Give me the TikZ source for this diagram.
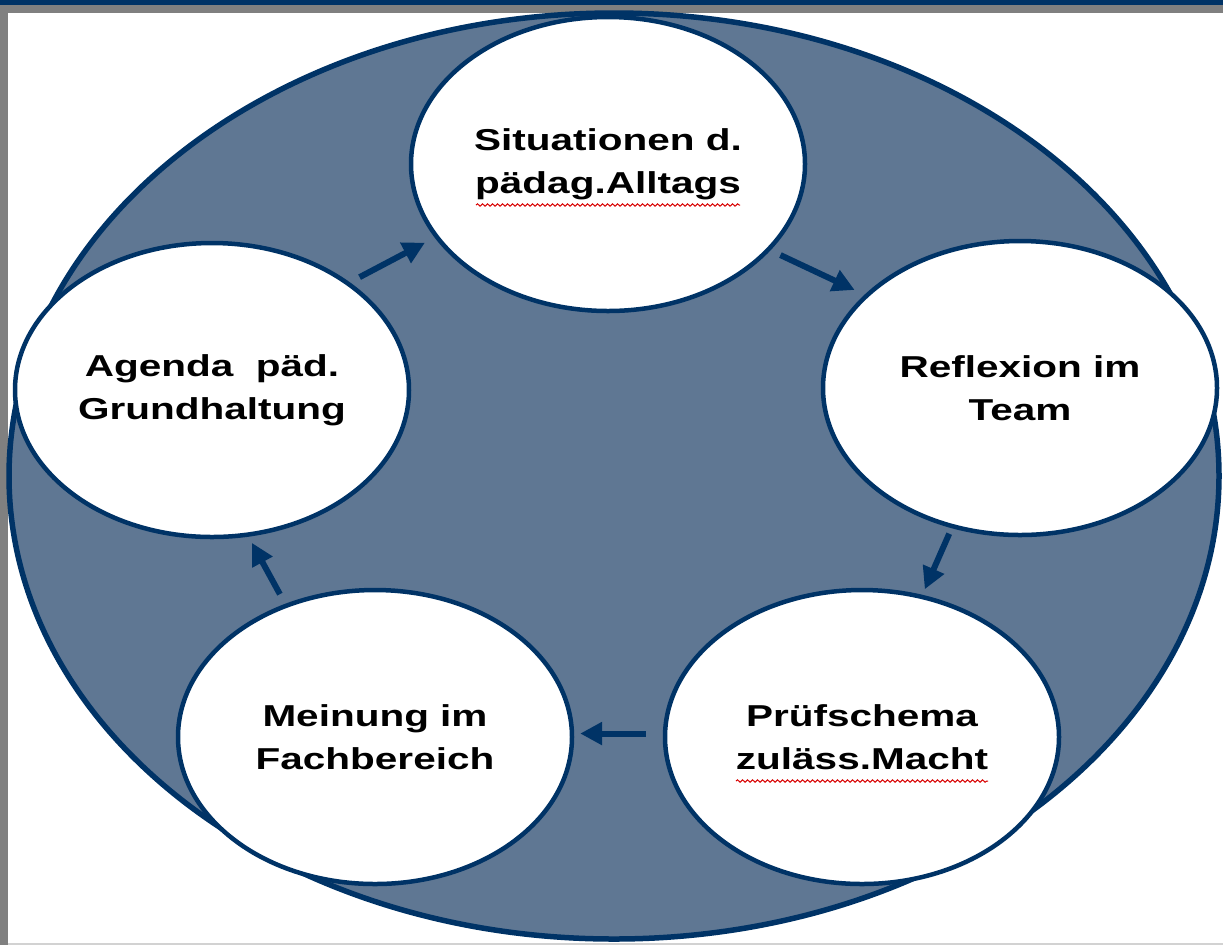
\documentclass[tikz,border=0pt]{standalone}
\usepackage{fontspec}
\newfontfamily\stagefont{Liberation Sans}[FakeStretch=1.34]
\usepackage{tikz}
\usetikzlibrary{arrows.meta, positioning, shapes.geometric, decorations.pathmorphing}

\definecolor{ringblue}{RGB}{0,51,102}
\definecolor{ringfill}{RGB}{95,119,147}
\definecolor{framegray}{RGB}{128,128,128}

\begin{document}
\begin{tikzpicture}[
		x=0.1mm, y=-0.1mm,
		font=\stagefont\bfseries\fontsize{8.6}{12.2}\selectfont,
		stage/.style={ellipse, draw=ringblue, line width=0.45mm, fill=white, align=center, minimum width=39.4mm, minimum height=29.4mm, inner sep=0pt},
		arrow/.style={-{Triangle[length=2.2mm, width=2.2mm]}, color=ringblue, line width=0.6mm, shorten <=1.1mm, shorten >=1.1mm},
		squiggle/.style={draw=red!85!black, line width=0.1mm, decorate, decoration={snake, amplitude=0.12mm, segment length=0.5mm}}
		]
		
		% Frame
		\useasboundingbox (0,0) rectangle (1223,945);
		\fill[ringblue] (0,0) rectangle (1223,5);
		\fill[framegray] (0,5) rectangle (1223,13);
		\fill[framegray] (0,5) rectangle (8,945);
		\fill[gray!35] (8,943) rectangle (1223,945);
		
		% Ring
		\node (ring) [ellipse, draw=ringblue, line width=0.55mm, fill=ringfill, minimum width=121mm, minimum height=92.6mm] at (614,476) {};
		
		% Stages
		\node (sit) [stage] at (608,164) {Situationen d.\\pädag.Alltags};
		\node (refl) [stage] at (1020,388) {Reflexion im\\Team};
		\node (pruef) [stage] at (862,737) {Prüfschema\\zuläss.Macht};
		\node (mein) [stage] at (375,737) {Meinung im\\Fachbereich};
		\node (agenda) [stage] at (212,390) {Agenda~ päd.\\Grundhaltung};
		
		% Spell marks
		\draw[squiggle] (476,205) -- (740,205);
		\draw[squiggle] (736,781) -- (988,781);
		
		% Arrows
		\draw[arrow] (agenda.38) -- (sit.203);
		\draw[arrow] (sit.332) -- (refl.149);
		\draw[arrow, shorten <=0.6mm, shorten >=0.6mm] (refl.244) -- (pruef.67);
		\draw[arrow, shorten <=1.7mm, shorten >=0.6mm] (pruef.179) -- (mein.1);
		\draw[arrow, shorten >=0.7mm] (mein.124) -- (agenda.284);
		
	\end{tikzpicture}
\end{document}
